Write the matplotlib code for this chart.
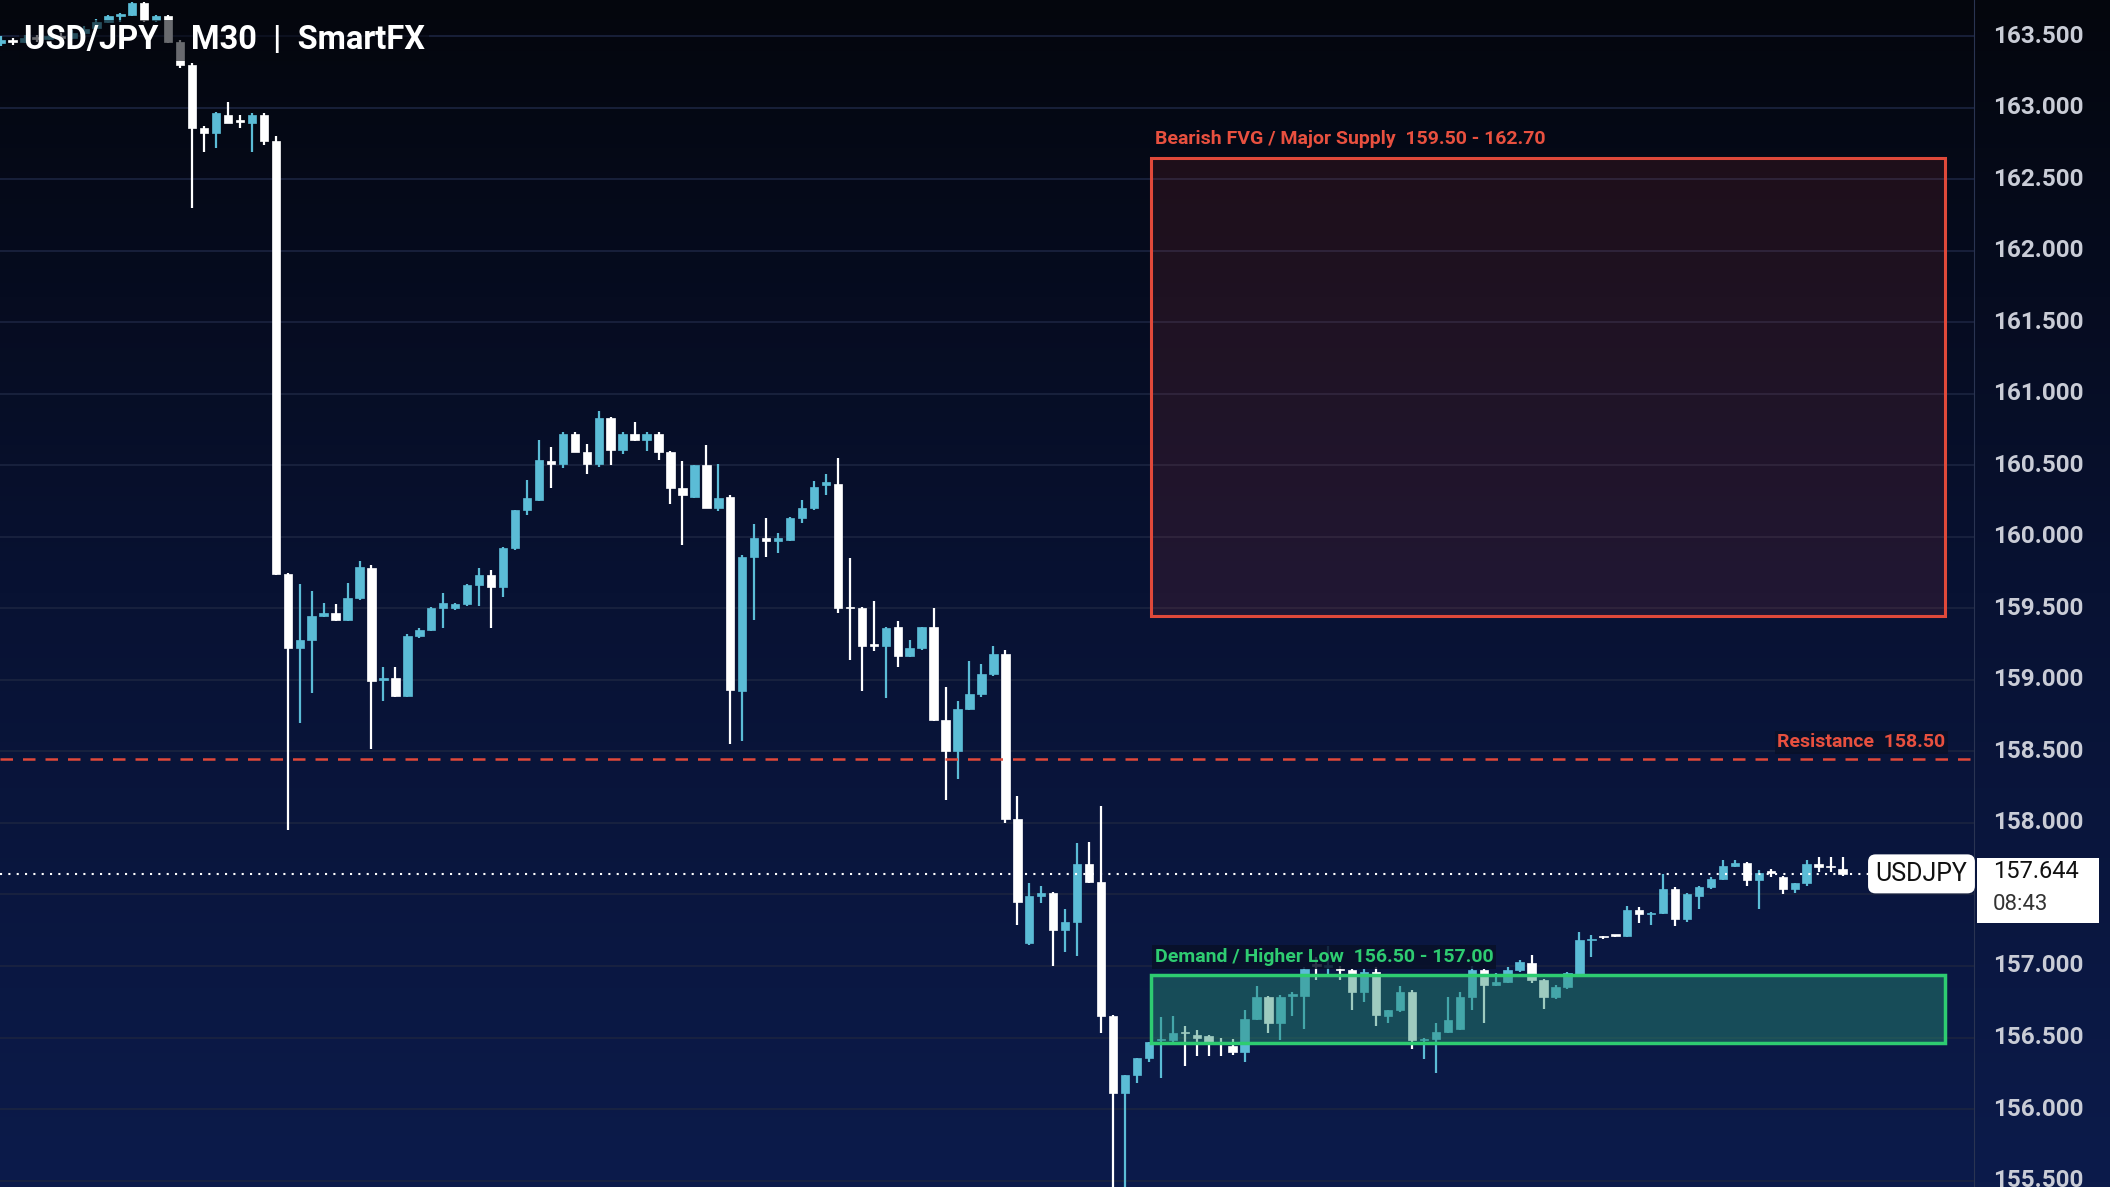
import matplotlib
matplotlib.use("Agg")
import matplotlib.pyplot as plt
import numpy as np
from matplotlib.patches import Rectangle
from matplotlib.colors import LinearSegmentedColormap

plt.rcParams['font.family'] = ['Roboto', 'DejaVu Sans']

opens = [163.45,163.47,163.46,163.49,163.48,163.50,163.49,163.52,163.56,163.60,163.64,163.65,163.73,163.61,163.64,163.46,163.30,162.86,162.82,162.95,
162.91,162.89,162.95,162.77,159.74,159.22,159.28,159.45,159.47,159.42,159.57,159.78,159.00,159.01,158.89,159.31,159.35,159.50,159.50,159.53,
159.66,159.73,159.65,159.92,160.19,160.26,160.53,160.51,160.72,160.59,160.51,160.83,160.61,160.72,160.68,160.72,160.59,160.34,160.28,160.50,
160.20,160.28,158.92,159.86,159.99,159.97,159.98,160.13,160.20,160.36,160.37,159.50,159.50,159.24,159.24,159.37,159.17,159.22,159.37,158.72,
158.50,158.80,158.90,159.04,159.18,158.03,157.16,157.49,157.51,157.25,157.31,157.71,157.59,156.65,156.11,156.24,156.36,156.48,156.48,156.54,
156.52,156.51,156.47,156.44,156.40,156.63,156.78,156.60,156.79,156.79,157.00,156.99,156.98,156.97,156.82,156.96,156.65,156.69,156.82,156.48,
156.49,156.54,156.56,156.78,156.97,156.87,156.89,156.97,157.02,156.90,156.78,156.85,156.94,157.18,157.20,157.21,157.21,157.39,157.36,157.37,
157.54,157.33,157.49,157.55,157.61,157.70,157.72,157.60,157.66,157.62,157.54,157.58,157.71,157.69,157.68]
highs = [163.50,163.49,163.51,163.51,163.52,163.52,163.54,163.57,163.62,163.65,163.66,163.74,163.74,163.65,163.65,163.47,163.31,162.87,162.97,163.04,
162.95,162.96,162.96,162.80,159.75,159.67,159.62,159.54,159.53,159.68,159.83,159.80,159.09,159.09,159.32,159.36,159.51,159.61,159.54,159.67,
159.78,159.77,159.93,160.19,160.40,160.68,160.63,160.73,160.73,160.65,160.88,160.84,160.73,160.80,160.73,160.73,160.60,160.53,160.50,160.64,
160.51,160.29,159.87,160.09,160.13,160.03,160.14,160.26,160.39,160.44,160.55,159.85,159.51,159.55,159.37,159.41,159.28,159.37,159.50,158.95,
158.85,159.13,159.11,159.24,159.21,158.19,157.58,157.56,157.52,157.40,157.86,157.87,158.12,156.66,156.24,156.36,156.47,156.64,156.65,156.58,
156.55,156.52,156.50,156.49,156.69,156.86,156.79,156.80,156.82,156.99,157.06,157.14,157.00,156.98,156.98,156.99,156.69,156.86,156.83,156.50,
156.60,156.78,156.82,157.00,156.98,156.95,156.99,157.04,157.08,156.91,156.87,156.96,157.24,157.22,157.21,157.22,157.42,157.41,157.38,157.64,
157.55,157.51,157.56,157.62,157.74,157.74,157.73,157.67,157.68,157.63,157.58,157.74,157.76,157.76,157.76]
lows = [163.43,163.44,163.45,163.46,163.47,163.47,163.48,163.51,163.55,163.59,163.60,163.64,163.60,163.60,163.45,163.28,162.30,162.69,162.72,162.89,
162.86,162.69,162.74,159.73,157.95,158.70,158.91,159.44,159.41,159.41,159.56,158.52,158.85,158.88,158.88,159.29,159.34,159.36,159.49,159.52,
159.52,159.36,159.58,159.91,160.15,160.25,160.34,160.48,160.59,160.44,160.49,160.50,160.58,160.67,160.60,160.54,160.23,159.94,160.27,160.20,
160.18,158.55,158.57,159.42,159.86,159.89,159.97,160.10,160.19,160.29,159.47,159.14,158.92,159.20,158.87,159.09,159.16,159.21,158.71,158.16,
158.31,158.79,158.88,159.03,158.00,157.29,157.15,157.44,157.00,157.10,157.07,157.58,156.53,155.40,155.45,156.18,156.33,156.22,156.47,156.30,
156.37,156.37,156.37,156.38,156.33,156.62,156.53,156.48,156.65,156.56,156.90,156.93,156.90,156.69,156.75,156.58,156.60,156.68,156.42,156.35,
156.25,156.53,156.55,156.69,156.60,156.86,156.88,156.96,156.88,156.70,156.77,156.84,156.93,157.06,157.19,157.20,157.20,157.30,157.29,157.36,
157.28,157.31,157.40,157.54,157.60,157.69,157.56,157.40,157.62,157.50,157.51,157.56,157.66,157.66,157.63]
closes = [163.47,163.46,163.49,163.48,163.50,163.49,163.52,163.55,163.60,163.64,163.65,163.73,163.61,163.64,163.46,163.30,162.86,162.82,162.96,162.89,
162.90,162.95,162.77,159.74,159.22,159.28,159.45,159.47,159.42,159.57,159.79,158.99,159.01,158.89,159.31,159.35,159.50,159.54,159.53,159.66,
159.73,159.65,159.92,160.19,160.27,160.54,160.51,160.72,160.59,160.51,160.83,160.61,160.72,160.68,160.72,160.59,160.34,160.29,160.50,160.20,
160.27,158.93,159.86,159.99,159.97,159.99,160.13,160.20,160.35,160.38,159.50,159.50,159.24,159.24,159.36,159.17,159.22,159.37,158.72,158.50,
158.80,158.90,159.04,159.18,158.03,157.45,157.49,157.51,157.25,157.31,157.71,157.59,156.65,156.11,156.24,156.36,156.47,156.49,156.53,156.53,
156.50,156.47,156.46,156.40,156.63,156.78,156.60,156.78,156.80,156.98,157.00,157.01,156.97,156.82,156.96,156.66,156.69,156.82,156.48,156.49,
156.54,156.62,156.78,156.97,156.87,156.89,156.97,157.03,156.90,156.78,156.85,156.95,157.18,157.19,157.20,157.21,157.39,157.36,157.37,157.54,
157.33,157.50,157.55,157.61,157.70,157.72,157.60,157.65,157.65,157.54,157.58,157.71,157.69,157.69,157.644]

price_ticks = [155.5,156.0,156.5,157.0,157.5,158.0,158.5,159.0,159.5,160.0,160.5,161.0,161.5,162.0,162.5,163.0,163.5]
supply_zone = (159.45, 162.65)
demand_zone = (156.46, 156.94)
zone_x = (96.2, 162.6)
resistance = 158.45
last_price = 157.644
title = "USD/JPY    M30  |  SmartFX"

fig = plt.figure(figsize=(21.10, 11.87), dpi=100)
bg = fig.add_axes([0, 0, 1, 1])
grad = np.linspace(0, 1, 256).reshape(-1, 1)
cmap = LinearSegmentedColormap.from_list("bg", ["#04060d", "#081233", "#0c1b4b"])
bg.imshow(grad, aspect="auto", cmap=cmap, extent=[0, 1, 0, 1], origin="upper")
bg.set_axis_off()

ax = fig.add_axes([0, 0, 0.9356, 1])
ax.patch.set_alpha(0)
ylo, yhi = 155.455, 163.753
ax.set_ylim(ylo, yhi)
ax.set_xlim(-0.06, 165.0)
for p in price_ticks:
    ax.axhline(p, color="#1b2440", lw=1.2, zorder=0)
for s in ax.spines.values():
    s.set_visible(False)
ax.spines["right"].set_visible(True)
ax.spines["right"].set_color("#2a3452")
ax.set_xticks([]); ax.set_yticks([])

up_c, dn_c = "#5bbcd6", "#ffffff"
w = 0.7
for i, (o, h, l, c) in enumerate(zip(opens, highs, lows, closes)):
    col = up_c if c > o else dn_c
    ax.vlines(i, l, h, color=col, lw=1.6, zorder=2)
    bot, top = min(o, c), max(o, c)
    hgt = max(top - bot, 0.012)
    ax.add_patch(Rectangle((i - w/2, bot), w, hgt, facecolor=col, edgecolor=col, lw=0.5, zorder=3))

ax.add_patch(Rectangle((zone_x[0], supply_zone[0]), zone_x[1]-zone_x[0], supply_zone[1]-supply_zone[0],
                       facecolor=(0.85, 0.25, 0.2, 0.12), edgecolor="#e0493a", lw=2.2, zorder=4))
ax.add_patch(Rectangle((zone_x[0], demand_zone[0]), zone_x[1]-zone_x[0], demand_zone[1]-demand_zone[0],
                       facecolor=(0.16, 0.55, 0.45, 0.45), edgecolor="#2ecc71", lw=2.5, zorder=4))
ax.text(zone_x[0]+0.3, supply_zone[1]+0.07, "Bearish FVG / Major Supply  159.50 - 162.70", color="#e8503f",
        fontsize=14, fontweight="bold", va="bottom", zorder=6)
ax.text(zone_x[0]+0.3, demand_zone[1]+0.06, "Demand / Higher Low  156.50 - 157.00", color="#2ecc71",
        fontsize=14, fontweight="bold", va="bottom", zorder=6,
        bbox=dict(facecolor="#081028", edgecolor="none", alpha=0.85, pad=2))
ax.axhline(resistance, color="#e0493a", lw=1.8, ls=(0, (5, 4)), zorder=5)
ax.text(zone_x[1], resistance+0.05, "Resistance  158.50", color="#e8503f", fontsize=14,
        fontweight="bold", ha="right", va="bottom", zorder=6,
        bbox=dict(facecolor="#081028", edgecolor="none", alpha=0.85, pad=2))
ax.axhline(last_price, color="#ffffff", lw=1.5, ls=(0, (1, 3)), zorder=5)
ax.text(160.6, last_price, "USDJPY", color="#111111", fontsize=18, ha="center", va="center", zorder=7,
        bbox=dict(facecolor="white", edgecolor="none", boxstyle="round,pad=0.3"))
ax.text(0.012, 0.966, title, transform=ax.transAxes, color="white", fontsize=23.5, fontweight="bold",
        va="center", zorder=8, bbox=dict(facecolor="#05070f", edgecolor="none", alpha=0.6, pad=3))

rax = fig.add_axes([0.9356, 0, 0.0644, 1])
rax.patch.set_alpha(0)
rax.set_ylim(ylo, yhi); rax.set_xlim(0, 1)
rax.set_axis_off()
for p in price_ticks:
    rax.text(0.14, p, f"{p:.3f}", color="#c9ccd6", fontsize=17.5, fontweight="bold", va="center", ha="left")
rax.add_patch(Rectangle((0.02, last_price - 0.34), 0.9, 0.45, facecolor="white", edgecolor="none", zorder=5))
rax.text(0.14, last_price + 0.015, f"{last_price:.3f}", color="#111111", fontsize=17, va="center", zorder=6)
rax.text(0.14, last_price - 0.215, "08:43", color="#333333", fontsize=16, va="center", zorder=6)

fig.savefig("out.png", dpi=100)
